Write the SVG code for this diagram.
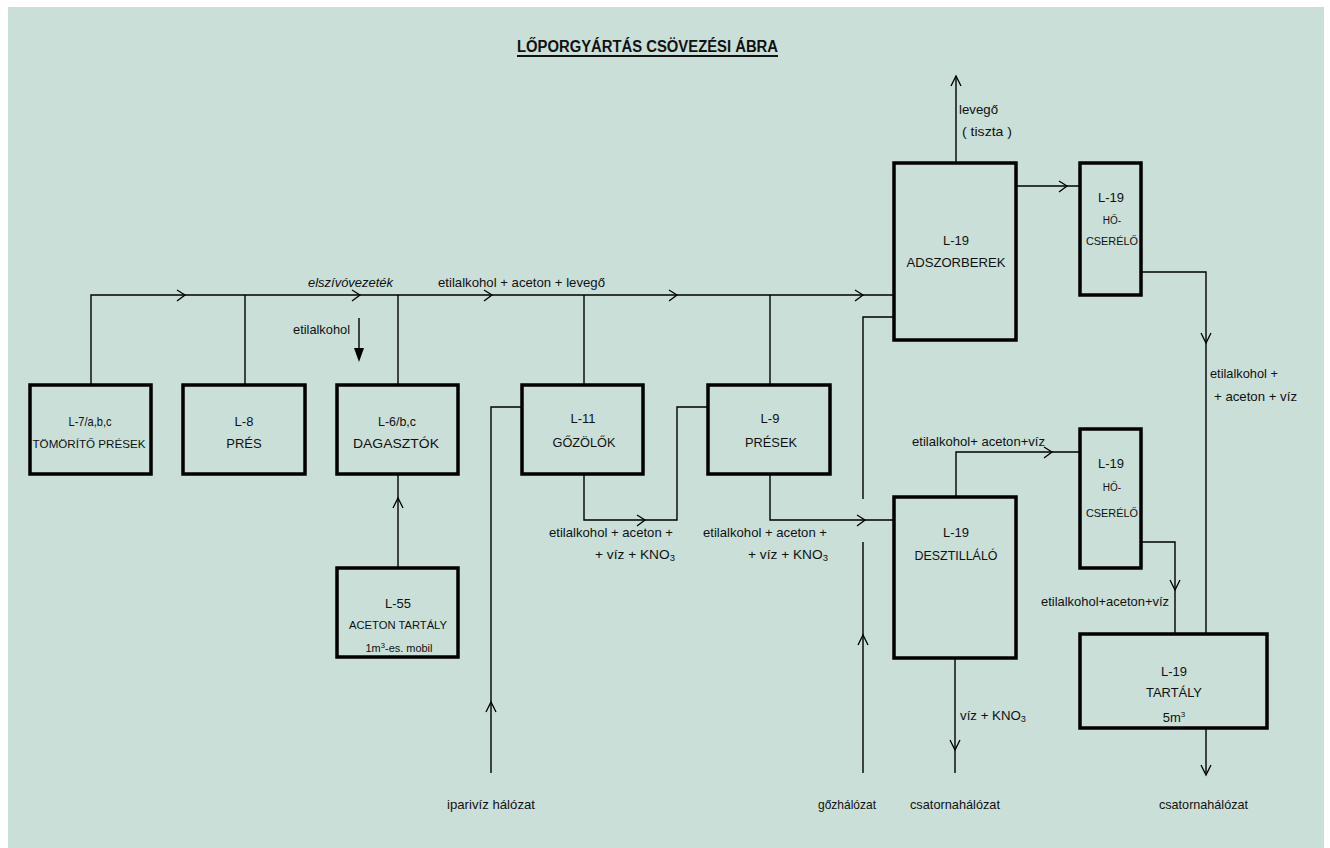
<svg xmlns="http://www.w3.org/2000/svg" width="1330" height="848" viewBox="0 0 1330 848">
<style>
text{font-family:"Liberation Sans Narrow","Liberation Sans",Arial,sans-serif;fill:#111;font-size:13px}
.c{text-anchor:middle}
.s{font-size:11.5px}
.xs{font-size:10px}
.box{fill:none;stroke:#000;stroke-width:3.5}
.ln{fill:none;stroke:#000;stroke-width:1.4}
.ar{fill:none;stroke:#000;stroke-width:1.3}
</style>
<rect x="0" y="0" width="1330" height="848" fill="#fff"/>
<rect x="8" y="7" width="1316" height="841" fill="#C9DFD8"/>
<g id="title">
<text x="647.5" y="52" class="c" style="font-weight:bold;font-size:16px" textLength="261" lengthAdjust="spacingAndGlyphs">LŐPORGYÁRTÁS CSÖVEZÉSI ÁBRA</text>
<line x1="517" y1="56" x2="778" y2="56" stroke="#111" stroke-width="2"/>
</g>
<g id="connectors">
<path class="ln" d="M91,385 V295 H894"/>
<path class="ln" d="M245,295 V385"/>
<path class="ln" d="M398,295 V385"/>
<path class="ln" d="M584,295 V385"/>
<path class="ln" d="M770,295 V385"/>
<path class="ln" d="M398,474 V568"/>
<path class="ln" d="M491,773 V407 H522"/>
<path class="ln" d="M584,474 V520 H677 V407 H708"/>
<path class="ln" d="M770,474 V520 H895"/>
<path class="ln" d="M863,773 V542 M863,499 V317 H894"/>
<path class="ln" d="M956,163 V76"/>
<path class="ln" d="M1016,186 H1080"/>
<path class="ln" d="M1141,272 H1206 V634"/>
<path class="ln" d="M956,497 V452 H1080"/>
<path class="ln" d="M1141,542 H1175 V634"/>
<path class="ln" d="M955,658 V773"/>
<path class="ln" d="M1206,728 V773"/>
<path class="ln" d="M359,318 V350"/>
<path d="M354,348 H364 L359,362 Z" fill="#000"/>
<path class="ar" d="M177,290 L185,295 L177,301"/>
<path class="ar" d="M352,290 L360,295 L352,301"/>
<path class="ar" d="M484,290 L492,295 L484,301"/>
<path class="ar" d="M669,290 L677,295 L669,301"/>
<path class="ar" d="M855,290 L863,295 L855,301"/>
<path class="ar" d="M1059,181 L1067,186 L1059,192"/>
<path class="ar" d="M637,515 L645,520 L637,526"/>
<path class="ar" d="M857,515 L865,520 L857,526"/>
<path class="ar" d="M1044,447 L1052,452 L1044,458"/>
<path class="ar" d="M1201,333 L1206,343 L1211,333"/>
<path class="ar" d="M1170,580 L1175,590 L1180,580"/>
<path class="ar" d="M950,740 L955,750 L960,740"/>
<path class="ar" d="M1201,765 L1206,775 L1211,765"/>
<path class="ar" d="M951,86 L956,76 L961,86"/>
<path class="ar" d="M486,712 L491,702 L496,712"/>
<path class="ar" d="M858,645 L863,635 L868,645"/>
<path class="ar" d="M393,508 L398,498 L403,508"/>
</g>
<g id="L7">
<rect class="box" x="30" y="385" width="121" height="89"/>
<text x="90" y="426" class="c" textLength="43" lengthAdjust="spacingAndGlyphs">L-7/a,b,c</text>
<text x="89" y="448" class="c s" textLength="113" lengthAdjust="spacingAndGlyphs">TÖMÖRÍTŐ PRÉSEK</text>
</g>
<g id="L8">
<rect class="box" x="183" y="385" width="122" height="89"/>
<text x="244" y="426" class="c">L-8</text>
<text x="244" y="448" class="c">PRÉS</text>
</g>
<g id="L6">
<rect class="box" x="337" y="385" width="121" height="89"/>
<text x="397" y="426" class="c" textLength="38" lengthAdjust="spacingAndGlyphs">L-6/b,c</text>
<text x="396" y="448" class="c" textLength="86" lengthAdjust="spacingAndGlyphs">DAGASZTÓK</text>
</g>
<g id="L11">
<rect class="box" x="522" y="385" width="121" height="89"/>
<text x="583" y="423" class="c">L-11</text>
<text x="584" y="447" class="c" textLength="63" lengthAdjust="spacingAndGlyphs">GŐZÖLŐK</text>
</g>
<g id="L9">
<rect class="box" x="708" y="385" width="122" height="89"/>
<text x="770" y="423" class="c">L-9</text>
<text x="771" y="447" class="c" textLength="52" lengthAdjust="spacingAndGlyphs">PRÉSEK</text>
</g>
<g id="L55">
<rect class="box" x="337" y="568" width="121" height="89"/>
<text x="398" y="608" class="c">L-55</text>
<text x="398" y="629" class="c s" textLength="98" lengthAdjust="spacingAndGlyphs">ACETON TARTÁLY</text>
<text x="399" y="652" class="c xs" textLength="67" lengthAdjust="spacingAndGlyphs">1m<tspan dy="-4" font-size="7">3</tspan><tspan dy="4">-es. mobil</tspan></text>
</g>
<g id="adszorber">
<rect class="box" x="894" y="163" width="122" height="177"/>
<text x="956" y="245" class="c">L-19</text>
<text x="956" y="267" class="c" textLength="99" lengthAdjust="spacingAndGlyphs">ADSZORBEREK</text>
</g>
<g id="hocserelo1">
<rect class="box" x="1080" y="163" width="61" height="132"/>
<text x="1111" y="202" class="c">L-19</text>
<text x="1112" y="224" class="c xs">HŐ-</text>
<text x="1112" y="245" class="c s" textLength="52" lengthAdjust="spacingAndGlyphs">CSERÉLŐ</text>
</g>
<g id="hocserelo2">
<rect class="box" x="1080" y="429" width="61" height="139"/>
<text x="1111" y="468" class="c">L-19</text>
<text x="1112" y="491" class="c xs">HŐ-</text>
<text x="1112" y="517" class="c s" textLength="52" lengthAdjust="spacingAndGlyphs">CSERÉLŐ</text>
</g>
<g id="desztillalo">
<rect class="box" x="894" y="497" width="122" height="161"/>
<text x="956" y="537" class="c">L-19</text>
<text x="956" y="560" class="c" textLength="83" lengthAdjust="spacingAndGlyphs">DESZTILLÁLÓ</text>
</g>
<g id="tartaly">
<rect class="box" x="1080" y="634" width="187" height="94"/>
<text x="1174" y="676" class="c">L-19</text>
<text x="1174" y="697" class="c" textLength="56" lengthAdjust="spacingAndGlyphs">TARTÁLY</text>
<text x="1174" y="722" class="c">5m<tspan dy="-5" font-size="8">3</tspan></text>
</g>
<g id="labels">
<text x="308" y="287" style="font-style:italic" textLength="85" lengthAdjust="spacingAndGlyphs">elszívóvezeték</text>
<text x="438" y="287" textLength="167" lengthAdjust="spacingAndGlyphs">etilalkohol + aceton + levegő</text>
<text x="293" y="334" textLength="57" lengthAdjust="spacingAndGlyphs">etilalkohol</text>
<text x="959" y="114" textLength="39" lengthAdjust="spacingAndGlyphs">levegő</text>
<text x="962" y="136" textLength="50" lengthAdjust="spacingAndGlyphs">( tiszta )</text>
<text x="549" y="537" textLength="124" lengthAdjust="spacingAndGlyphs">etilalkohol + aceton +</text>
<text x="595" y="559" textLength="80" lengthAdjust="spacingAndGlyphs">+ víz + KNO<tspan dy="2" font-size="9">3</tspan></text>
<text x="703" y="537" textLength="124" lengthAdjust="spacingAndGlyphs">etilalkohol + aceton +</text>
<text x="748" y="559" textLength="80" lengthAdjust="spacingAndGlyphs">+ víz + KNO<tspan dy="2" font-size="9">3</tspan></text>
<text x="912" y="446" textLength="133" lengthAdjust="spacingAndGlyphs">etilalkohol+ aceton+víz</text>
<text x="1210" y="378" textLength="68" lengthAdjust="spacingAndGlyphs">etilalkohol +</text>
<text x="1214" y="401" textLength="83" lengthAdjust="spacingAndGlyphs">+ aceton + víz</text>
<text x="1041" y="606" textLength="128" lengthAdjust="spacingAndGlyphs">etilalkohol+aceton+víz</text>
<text x="960" y="720" textLength="66" lengthAdjust="spacingAndGlyphs">víz + KNO<tspan dy="2" font-size="9">3</tspan></text>
<text x="447" y="809" textLength="88" lengthAdjust="spacingAndGlyphs">iparivíz hálózat</text>
<text x="818" y="809" textLength="58" lengthAdjust="spacingAndGlyphs">gőzhálózat</text>
<text x="910" y="809" textLength="90" lengthAdjust="spacingAndGlyphs">csatornahálózat</text>
<text x="1159" y="809" textLength="89" lengthAdjust="spacingAndGlyphs">csatornahálózat</text>
</g>
</svg>
